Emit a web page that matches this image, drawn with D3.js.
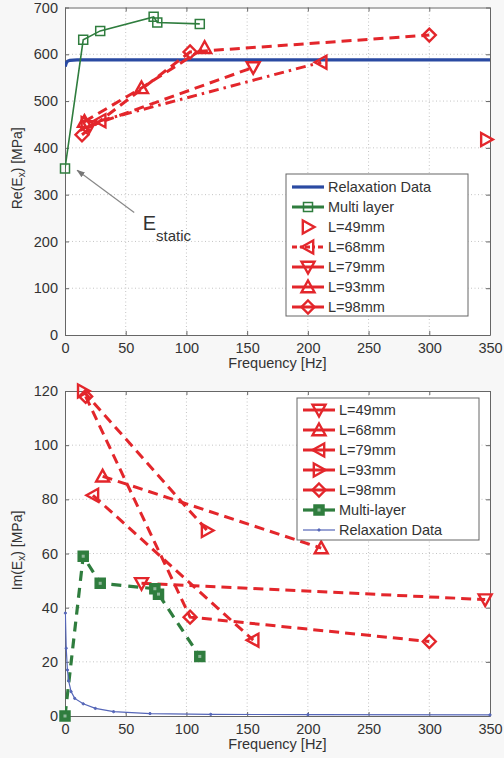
<!DOCTYPE html>
<html>
<head>
<meta charset="utf-8">
<title>Re(Ex) and Im(Ex) vs frequency</title>
<script src="https://d3js.org/d3.v7.min.js"></script>
<style>
body { margin: 0; background: #f7f7f7; }
svg { display: block; font-family: "Liberation Sans", Arial, sans-serif; }
</style>
</head>
<body>
<svg id="fig" width="504" height="758"></svg>
<script>
// tick values
const freqTicks = [0, 50, 100, 150, 200, 250, 300, 350];
const reTicks = [0, 100, 200, 300, 400, 500, 600, 700];
const imTicks = [0, 20, 40, 60, 80, 100, 120];

// top panel: Re(Ex) [MPa], pairs of [Hz, MPa]
const reRelax = [[0.2, 574], [1, 581], [2, 585], [4, 587], [10, 588], [350, 588]];
const reMulti = [[0, 356], [15, 631], [29, 650], [73, 680], [76, 668], [111, 665]];
const reL49 = [[18, 452], [347, 418]];
const reL68 = [[29, 458], [211, 583]];
const reL79 = [[20, 446], [155, 572]];
const reL93 = [[16, 456], [63, 528], [115, 614]];
const reL98 = [[14, 428], [103, 605], [300, 641]];
const staticNote = {text: [64, 224], from: [57, 262], to: [10, 352]};

// bottom panel: Im(Ex) [MPa]
const imRelax = [[0.3, 38], [1, 25], [2, 17], [3, 13], [5, 9], [8, 6.5], [15, 4.5], [25, 2.8],
                 [40, 1.6], [70, 0.9], [120, 0.6], [200, 0.5], [350, 0.4]];
const imMulti = [[0, 0], [15, 59], [29, 49], [74, 47], [77, 45], [111, 22]];
const imL49 = [[63, 49], [346, 43]];
const imL68 = [[31, 88.5], [211, 62]];
const imL79 = [[23, 81.5], [155, 28]];
const imL93 = [[15, 120], [117, 68.5]];
const imL98 = [[17, 118], [103, 36.5], [300, 27.5]];

const RED = "#e3262b", GREEN = "#2f7d3e", BLUE = "#2a4aa2";

const topSeries = [
  {name: "Relaxation Data", data: reRelax, color: BLUE, width: 3.2, dash: null, marker: null},
  {name: "Multi layer", data: reMulti, color: GREEN, width: 1.6, dash: null, marker: "square", r: 4.5, mw: 1.5, fill: "none"},
  {name: "L=49mm", data: reL49, color: RED, width: 0, dash: null, marker: "right", r: 6.5, mw: 2.4, fill: "none"},
  {name: "L=68mm", data: reL68, color: RED, width: 3, dash: "10,5,2.5,5", marker: "left", r: 6.5, mw: 2.4, fill: "none"},
  {name: "L=79mm", data: reL79, color: RED, width: 3, dash: "10,6", marker: "down", r: 6.5, mw: 2.4, fill: "none"},
  {name: "L=93mm", data: reL93, color: RED, width: 3, dash: "10,6", marker: "up", r: 6.5, mw: 2.4, fill: "none"},
  {name: "L=98mm", data: reL98, color: RED, width: 3, dash: "10,6", marker: "diamond", r: 6.5, mw: 2.4, fill: "none"}
];

const botSeries = [
  {name: "L=49mm", data: imL49, color: RED, width: 3, dash: "10,6", marker: "down", r: 6.5, mw: 2.4, fill: "none"},
  {name: "L=68mm", data: imL68, color: RED, width: 3, dash: "10,6", marker: "up", r: 6.5, mw: 2.4, fill: "none"},
  {name: "L=79mm", data: imL79, color: RED, width: 3, dash: "10,6", marker: "left", r: 6.5, mw: 2.4, fill: "none"},
  {name: "L=93mm", data: imL93, color: RED, width: 3, dash: "10,6", marker: "right", r: 6.5, mw: 2.4, fill: "none"},
  {name: "L=98mm", data: imL98, color: RED, width: 3, dash: "10,6", marker: "diamond", r: 6.5, mw: 2.4, fill: "none"},
  {name: "Multi-layer", data: imMulti, color: GREEN, width: 3.2, dash: "10,7", marker: "square", r: 5, mw: 1.5, fill: GREEN},
  {name: "Relaxation Data", data: imRelax, color: "#5566b8", width: 1.2, dash: null, marker: "dot", r: 1, mw: 1, fill: "#5566b8"}
];

function markerPath(type, r) {
  if (type == "square") return `M${-r},${-r}H${r}V${r}H${-r}Z`;
  if (type == "diamond") return `M0,${-r}L${r},0L0,${r}L${-r},0Z`;
  if (type == "dot") return d3.symbol(d3.symbolCircle, 4)();
  // triangle pointing up, rotated for the others
  return `M0,${-r}L${r},${r * 0.8}L${-r},${r * 0.8}Z`;
}
const rot = {up: 0, right: 90, down: 180, left: -90};

const svg = d3.select("#fig");
const defs = svg.append("defs");

function drawMarkers(g, s, pts) {
  if (!s.marker) return;
  g.selectAll(null).data(pts).join("path")
    .attr("d", markerPath(s.marker, s.r))
    .attr("transform", p => `translate(${p[0]},${p[1]}) rotate(${rot[s.marker] || 0})`)
    .attr("fill", s.fill)
    .attr("stroke", s.color)
    .attr("stroke-width", s.mw)
    .attr("stroke-linejoin", "miter");
  if (s.marker == "square" && s.fill != "none") {
    // lighter core as in the scanned figure
    g.selectAll(null).data(pts).join("rect")
      .attr("x", p => p[0] - 1.5).attr("y", p => p[1] - 1.5)
      .attr("width", 3).attr("height", 3).attr("fill", "#8fb89a");
  }
}

function panel(id, top, bottom, yMax, yTicks, series, yLabel) {
  const left = 65, right = 490;
  const x = d3.scaleLinear([0, 350], [left, right]);
  const y = d3.scaleLinear([0, yMax], [bottom, top]);
  const g = svg.append("g");

  g.append("rect").attr("x", left).attr("y", top)
    .attr("width", right - left).attr("height", bottom - top).attr("fill", "#fff");

  defs.append("clipPath").attr("id", "clip" + id).append("rect")
    .attr("x", left).attr("y", top).attr("width", right - left).attr("height", bottom - top);

  // dotted grid
  const grid = g.append("g").attr("stroke", "#c4c4c4").attr("stroke-dasharray", "1,2.5").attr("stroke-width", 1);
  grid.selectAll(null).data(freqTicks.slice(1, -1)).join("line")
    .attr("x1", d => x(d)).attr("x2", d => x(d)).attr("y1", top).attr("y2", bottom);
  grid.selectAll(null).data(yTicks.slice(1, -1)).join("line")
    .attr("x1", left).attr("x2", right).attr("y1", d => y(d)).attr("y2", d => y(d));

  // axes with inward ticks, on all four sides
  const ax = g.append("g");
  ax.append("g").attr("transform", `translate(0,${bottom})`)
    .call(d3.axisBottom(x).tickValues(freqTicks).tickSizeInner(-4).tickSizeOuter(0).tickPadding(8));
  ax.append("g").attr("transform", `translate(0,${top})`)
    .call(d3.axisTop(x).tickValues(freqTicks).tickSizeInner(-4).tickSizeOuter(0).tickFormat(""));
  ax.append("g").attr("transform", `translate(${left},0)`)
    .call(d3.axisLeft(y).tickValues(yTicks).tickSizeInner(-4).tickSizeOuter(0).tickPadding(7));
  ax.append("g").attr("transform", `translate(${right},0)`)
    .call(d3.axisRight(y).tickValues(yTicks).tickSizeInner(-4).tickSizeOuter(0).tickFormat(""));
  ax.selectAll("g").attr("font-size", null).attr("font-family", null);
  ax.selectAll(".domain").attr("stroke", "#666");
  ax.selectAll(".tick line").attr("stroke", "#666");
  ax.selectAll("text").attr("fill", "#333").attr("font-size", 14.5);

  // axis titles
  g.append("text").attr("x", (left + right) / 2).attr("y", bottom + 33)
    .attr("text-anchor", "middle").attr("font-size", 14.5).attr("fill", "#333").text("Frequency [Hz]");
  const yl = g.append("text").attr("transform", `translate(22,${(top + bottom) / 2 - 3}) rotate(-90)`)
    .attr("text-anchor", "middle").attr("font-size", 14).attr("fill", "#333");
  yl.append("tspan").text(yLabel + "(E");
  yl.append("tspan").attr("font-size", 10).attr("dy", 3).text("x");
  yl.append("tspan").attr("dy", -3).text(") [MPa]");

  // series
  const line = d3.line().x(d => x(d[0])).y(d => y(d[1]));
  const plot = g.append("g");
  series.forEach(s => {
    if (s.width > 0) {
      plot.append("path").datum(s.data).attr("d", line)
        .attr("clip-path", `url(#clip${id})`)
        .attr("fill", "none").attr("stroke", s.color).attr("stroke-width", s.width)
        .attr("stroke-dasharray", s.dash);
    }
  });
  // markers on top of every line
  series.forEach(s => drawMarkers(plot, s, s.data.map(d => [x(d[0]), y(d[1])])));

  return {g: g, x: x, y: y};
}

function legend(box, series) {
  const lg = svg.append("g");
  lg.append("rect").attr("x", box.x).attr("y", box.y).attr("width", box.w).attr("height", box.h)
    .attr("fill", "#fff").attr("stroke", "#666").attr("stroke-width", 1);
  series.forEach((s, i) => {
    const cy = box.y + box.first + i * 20;
    const row = lg.append("g");
    if (s.width > 0) {
      row.append("line").attr("x1", box.x + 6).attr("x2", box.x + 38).attr("y1", cy).attr("y2", cy)
        .attr("stroke", s.color).attr("stroke-width", Math.max(s.width, 2.5) == 2.5 && s.color == GREEN ? 3 : s.width)
        .attr("stroke-dasharray", s.dash && s.dash.length > 5 ? "5,3,2,3" : null);
    }
    drawMarkers(row, s, [[box.x + 22, cy]]);
    row.append("text").attr("x", box.x + 42).attr("y", cy + 5)
      .attr("font-size", 14.5).attr("fill", "#333").text(s.name);
  });
}

// top panel
const p1 = panel("A", 7.5, 335, 700, reTicks, topSeries, "Re");
legend({x: 286, y: 174, w: 182, h: 142, first: 13}, topSeries);

// E_static note with arrow
defs.append("marker").attr("id", "head").attr("viewBox", "0 0 10 10")
  .attr("refX", 9).attr("refY", 5).attr("markerWidth", 7).attr("markerHeight", 7)
  .attr("orient", "auto").append("path").attr("d", "M0,1.5L10,5L0,8.5Z").attr("fill", "#777");
svg.append("line")
  .attr("x1", p1.x(staticNote.from[0])).attr("y1", p1.y(staticNote.from[1]))
  .attr("x2", p1.x(staticNote.to[0])).attr("y2", p1.y(staticNote.to[1]))
  .attr("stroke", "#888").attr("stroke-width", 1.2).attr("marker-end", "url(#head)");
const note = svg.append("text").attr("x", p1.x(staticNote.text[0])).attr("y", p1.y(staticNote.text[1]))
  .attr("fill", "#333");
note.append("tspan").attr("font-size", 20).text("E");
note.append("tspan").attr("font-size", 15).attr("dy", 11).text("static");

// bottom panel
panel("B", 391, 716, 120, imTicks, botSeries, "Im");
legend({x: 297, y: 398, w: 182, h: 142, first: 12}, botSeries);
</script>
</body>
</html>
